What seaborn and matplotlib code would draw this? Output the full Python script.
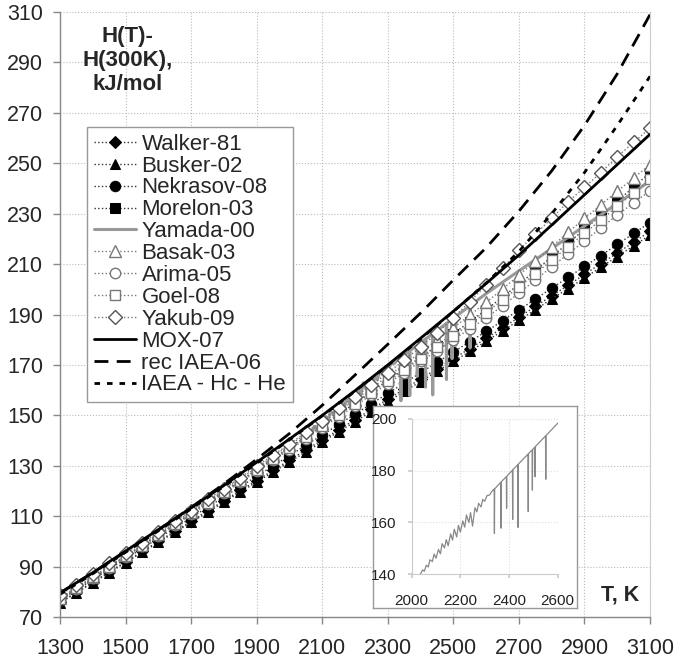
import numpy as np
import pandas as pd
import seaborn as sns
import matplotlib.pyplot as plt

# temperatures of the marker series, K
T50 = list(range(1300, 3101, 50))
T100 = list(range(1300, 3101, 100))

walker = [75.8, 79.9, 83.9, 87.9, 91.9, 96.0, 100.0, 104.0, 108.0, 112.1, 116.1, 120.2, 124.1,
          128.2, 132.2, 136.3, 140.2, 144.3, 148.3, 152.4, 156.4, 160.4, 164.4, 168.5, 172.5,
          176.5, 180.5, 184.7, 188.9, 193.2, 197.4, 201.6, 205.9, 210.2, 214.4, 218.7, 223.0]
busker = [75.6, 79.6, 83.6, 87.6, 91.6, 95.6, 99.6, 103.6, 107.5, 111.6, 115.5, 119.6, 123.5,
          127.5, 131.5, 135.5, 139.5, 143.5, 147.5, 151.5, 155.4, 159.5, 163.4, 167.5, 171.4,
          175.4, 179.4, 183.5, 187.7, 191.9, 196.2, 200.3, 204.5, 208.8, 213.0, 217.3, 221.5]
nekrasov = [76.6, 80.8, 84.8, 89.0, 93.0, 97.2, 101.2, 105.4, 109.4, 113.6, 117.6, 121.8, 125.8,
            130.0, 134.0, 138.2, 142.2, 146.4, 150.5, 154.6, 158.7, 162.8, 166.9, 171.0, 175.1,
            179.2, 183.3, 187.5, 191.8, 196.1, 200.5, 204.7, 209.1, 213.4, 217.8, 222.2, 226.5]
morelon = [77.0, 81.2, 85.5, 89.7, 94.0, 98.3, 102.6, 106.9, 111.2, 115.5, 119.8, 124.1, 128.5,
           132.8, 137.2, 141.6, 146.0, 150.4, 154.9, 159.4, 163.9, 168.5, 173.1, 177.7, 182.4,
           187.1, 191.9, 196.9, 202.0, 207.4, 212.9, 218.3, 223.8, 229.3, 234.9, 240.6, 246.3]
basak = [77.6, 81.8, 86.0, 90.2, 94.5, 98.8, 103.1, 107.4, 111.8, 116.1, 120.5, 124.9, 129.3,
         133.7, 138.2, 142.6, 147.1, 151.6, 156.2, 160.8, 165.5, 170.2, 175.0, 179.9, 184.8,
         189.7, 194.8, 200.1, 205.6, 211.2, 216.9, 222.6, 228.1, 233.5, 238.9, 244.2, 249.4]
arima = [77.0, 81.2, 85.4, 89.6, 93.8, 98.0, 102.2, 106.4, 110.7, 114.9, 119.2, 123.5, 127.8,
         132.1, 136.4, 140.7, 145.1, 149.4, 153.8, 158.2, 162.6, 167.0, 171.4, 175.7, 180.0,
         184.3, 188.6, 193.5, 198.5, 203.7, 208.9, 214.0, 219.2, 224.3, 229.5, 234.3, 239.1]
goel = [77.3, 81.5, 85.7, 89.9, 94.1, 98.3, 102.6, 106.8, 111.1, 115.4, 119.7, 124.0, 128.3,
        132.6, 137.0, 141.3, 145.7, 150.1, 154.6, 159.0, 163.5, 168.0, 172.5, 177.0, 181.5,
        186.1, 190.8, 195.8, 200.9, 206.2, 211.5, 216.9, 222.2, 227.6, 232.9, 238.3, 243.6]
yakub = [78.7, 82.8, 87.0, 91.3, 95.5, 99.5, 103.6, 108.1, 112.2, 116.7, 120.8, 125.3, 129.9,
         134.3, 138.6, 143.3, 147.8, 152.9, 157.4, 162.0, 166.9, 171.9, 177.2, 182.6, 188.7,
         195.1, 201.7, 208.3, 215.6, 221.8, 228.2, 234.7, 240.5, 246.3, 252.6, 258.3, 264.0]

# smooth curves, 100 K steps
mox = [79.6, 87.6, 96.2, 104.7, 113.3, 122.2, 131.4, 140.6, 150.0, 159.8,
       170.0, 180.6, 191.3, 202.3, 213.6, 225.5, 237.5, 249.5, 261.5]
rec_iaea = [79.5, 87.6, 95.9, 104.5, 113.5, 122.8, 132.6, 142.8, 154.0, 166.0,
            178.2, 190.6, 203.7, 216.5, 231.0, 247.0, 265.0, 285.5, 309.0]
iaea_hc = [79.0, 87.2, 95.7, 104.2, 112.9, 121.8, 131.0, 140.3, 149.8, 159.6,
           169.8, 180.3, 191.2, 202.5, 215.0, 230.0, 246.3, 265.0, 284.5]

# Yamada-00 MD data (noisy, with drops)
yam_T = [2034, 2045, 2052, 2060, 2068, 2075, 2085, 2092, 2100, 2110, 2118, 2125, 2135, 2142,
         2150, 2160, 2168, 2175, 2185, 2192, 2200, 2210, 2218, 2225, 2235, 2242, 2250, 2260,
         2268, 2275, 2285, 2292, 2300, 2310, 2320, 2330, 2335, 2339, 2340, 2341, 2366, 2367,
         2368, 2389, 2390, 2391, 2414, 2415, 2416, 2436, 2437, 2438, 2478, 2479, 2480, 2495,
         2496, 2497, 2506, 2507, 2508, 2550, 2551, 2552, 2602, 2700, 2800, 2900, 3000, 3100]
yam_H = [139.7, 141.7, 141.2, 143.5, 142.8, 145.6, 144.9, 147.8, 146.2, 149.6, 147.9, 151.8,
         150.2, 153.4, 151.0, 155.6, 153.2, 157.4, 154.4, 158.9, 156.3, 160.6, 158.2, 162.9,
         160.0, 163.8, 158.6, 165.7, 164.1, 167.4, 166.0, 168.9, 168.2, 170.4, 170.6, 172.1,
         172.5, 172.9, 155.8, 173.0, 175.5, 157.8, 175.7, 177.7, 165.5, 177.9, 180.2, 161.2,
         180.4, 182.3, 158.1, 182.5, 186.4, 164.2, 186.6, 188.0, 172.5, 188.2, 189.1, 177.7,
         189.3, 193.4, 176.7, 193.6, 198.5, 207.3, 216.2, 225.1, 234.0, 243.0]

sns.set_theme(style="white")
plt.rcParams['font.family'] = ['Liberation Sans', 'DejaVu Sans']

fig = plt.figure(figsize=(6.76, 6.68), dpi=100)
ax = fig.add_axes([0.0888, 0.0763, 0.8728, 0.9057])

dark = '#333333'
grey = '#777777'
ms = 7.5
sns.lineplot(x=T50, y=walker, ax=ax, color=dark, lw=1, ls=':', marker='D', ms=6.5,
             mfc='black', mec='black', label='Walker-81')
sns.lineplot(x=T50, y=busker, ax=ax, color=dark, lw=1, ls=':', marker='^', ms=ms,
             mfc='black', mec='black', label='Busker-02')
sns.lineplot(x=T50, y=nekrasov, ax=ax, color=dark, lw=1, ls=':', marker='o', ms=ms,
             mfc='black', mec='black', label='Nekrasov-08')
sns.lineplot(x=T50, y=morelon, ax=ax, color=dark, lw=1, ls=':', marker='s', ms=6.5,
             mfc='black', mec='black', label='Morelon-03')
sns.lineplot(x=yam_T, y=yam_H, ax=ax, color='#999999', lw=2.2, label='Yamada-00')
sns.lineplot(x=T50, y=basak, ax=ax, color=grey, lw=1, ls=':', marker='^', ms=ms + 0.5,
             mfc='white', mec=grey, mew=1, label='Basak-03')
sns.lineplot(x=T50, y=arima, ax=ax, color=grey, lw=1, ls=':', marker='o', ms=ms,
             mfc='white', mec=grey, mew=1, label='Arima-05')
sns.lineplot(x=T50, y=goel, ax=ax, color=grey, lw=1, ls=':', marker='s', ms=6.5,
             mfc='white', mec=grey, mew=1, label='Goel-08')
sns.lineplot(x=T50, y=yakub, ax=ax, color=grey, lw=1, ls=':', marker='D', ms=7,
             mfc='white', mec='#555555', mew=1, label='Yakub-09')
sns.lineplot(x=T100, y=mox, ax=ax, color='black', lw=2, label='MOX-07')
sns.lineplot(x=T100, y=rec_iaea, ax=ax, color='black', lw=2, ls=(0, (5, 3)),
             label='rec IAEA-06')
sns.lineplot(x=T100, y=iaea_hc, ax=ax, color='black', lw=2, ls=(0, (2, 2.5)),
             label='IAEA - Hc - He')

ax.set_xlim(1300, 3100)
ax.set_ylim(70, 310)
ax.set_xticks(range(1300, 3101, 200))
ax.set_yticks(range(70, 311, 20))
ax.set_xlabel('')
ax.set_ylabel('')
ax.grid(True, ls=':', color='#bbbbbb', lw=0.8)
for s in ['left', 'bottom']:
    ax.spines[s].set_color('#888888')
    ax.spines[s].set_linewidth(1)
ax.spines['top'].set_visible(False)
ax.spines['right'].set_color('#cccccc')
ax.spines['right'].set_linewidth(0.8)
ax.tick_params(axis='both', which='major', labelsize=15.5, length=5, width=1,
               color='#888888', direction='out', left=True, bottom=True)
ax.tick_params(axis='x', pad=10)
ax.tick_params(axis='y', pad=7)

leg = ax.legend(loc='upper left', bbox_to_anchor=(0.0458, 0.81), borderaxespad=0,
                fontsize=16, frameon=True, fancybox=False, framealpha=1,
                edgecolor='#999999', handlelength=1.9, handletextpad=0.25,
                labelspacing=0.04, borderpad=0.3, numpoints=1)
leg.get_frame().set_linewidth(1)

fig.text(0.189, 0.909, 'H(T)-\nH(300K),\nkJ/mol', ha='center', va='center',
         fontsize=16, fontweight='bold', linespacing=1.2)
fig.text(0.917, 0.109, 'T, K', ha='center', va='center', fontsize=15.5,
         fontweight='bold')

# inset with the Yamada-00 data
frame = fig.add_axes([0.5513, 0.0894, 0.3018, 0.3028], zorder=3)
frame.set_facecolor('white')
frame.set_xticks([])
frame.set_yticks([])
for s in frame.spines.values():
    s.set_color('#999999')
    s.set_linewidth(1)

ins = fig.add_axes([0.609, 0.1403, 0.216, 0.2326], zorder=4)
ins.set_facecolor('none')
sns.lineplot(x=yam_T, y=yam_H, ax=ins, color='#888888', lw=0.9)
ins.set_xlim(2000, 2600)
ins.set_ylim(140, 200)
ins.set_xticks(range(2000, 2601, 200))
ins.set_yticks(range(140, 201, 20))
ins.set_xlabel('')
ins.set_ylabel('')
ins.grid(True, ls=':', color='#dddddd', lw=0.8)
for s in ['top', 'right']:
    ins.spines[s].set_visible(False)
for s in ['left', 'bottom']:
    ins.spines[s].set_color('#cccccc')
    ins.spines[s].set_linewidth(0.8)
ins.tick_params(axis='both', labelsize=11, length=3, color='#cccccc',
                labelcolor='#222222', left=True, bottom=True)
ins.tick_params(axis='x', pad=11)
ins.tick_params(axis='y', pad=8)

fig.savefig('out.png', dpi=100)
